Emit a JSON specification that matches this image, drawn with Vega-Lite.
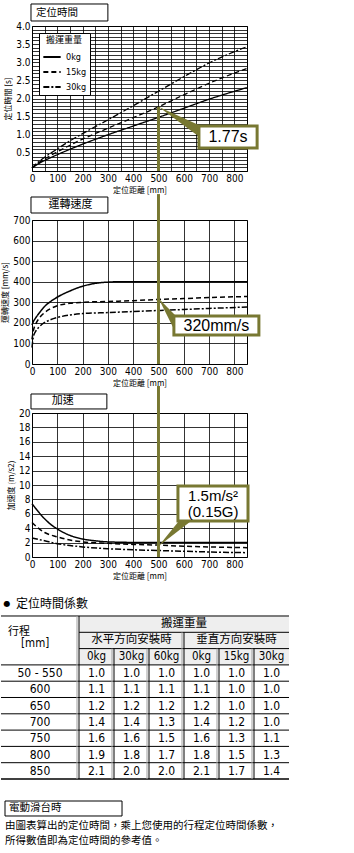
{
 "$schema": "https://vega.github.io/schema/vega-lite/v6.json",
 "background": "white",
 "padding": {"left": 0, "top": 2, "right": 4, "bottom": 4},
 "bounds": "flush",
 "spacing": 49,
 "config": {
  "view": {"stroke": "black", "strokeWidth": 1},
  "axis": {"domain": false, "grid": true, "gridColor": "black", "gridOpacity": 1, "gridWidth": 0.8, "ticks": false,
   "labelFont": "Liberation Sans Narrow, Arial Narrow, DejaVu Sans Condensed, sans-serif", "labelFontSize": 10, "labelColor": "black", "labelPadding": 2,
   "titleFont": "Noto Sans CJK TC", "titleFontSize": 8, "titleFontWeight": "normal", "titleColor": "black", "titlePadding": 3,
   "labelOverlap": false, "labelBound": false, "labelFlush": false},
  "legend": {"orient": "none", "fillColor": "white", "strokeColor": "black", "padding": 3, "titleFont": "Noto Sans CJK TC", "titleFontSize": 9, "titleFontWeight": "normal", "titleColor": "black", "titleAnchor": "middle", "titlePadding": 2,
   "labelFont": "Liberation Sans Narrow, Arial Narrow, DejaVu Sans Condensed, sans-serif", "labelFontSize": 9, "labelColor": "black", "symbolType": "stroke", "symbolSize": 300, "symbolStrokeWidth": 1.8, "symbolStrokeColor": "black", "rowPadding": 0, "labelOffset": 4},
  "text": {"color": "black"}
 },
 "datasets": {
  "time": [
   {"w":"0kg","d":0,"t":0.08},{"w":"0kg","d":25,"t":0.2},{"w":"0kg","d":50,"t":0.29},{"w":"0kg","d":100,"t":0.45},{"w":"0kg","d":150,"t":0.6},{"w":"0kg","d":200,"t":0.74},{"w":"0kg","d":300,"t":1.0},{"w":"0kg","d":400,"t":1.24},{"w":"0kg","d":500,"t":1.48},{"w":"0kg","d":600,"t":1.73},{"w":"0kg","d":700,"t":1.98},{"w":"0kg","d":850,"t":2.3},
   {"w":"15kg","d":0,"t":0.08},{"w":"15kg","d":25,"t":0.22},{"w":"15kg","d":50,"t":0.33},{"w":"15kg","d":100,"t":0.53},{"w":"15kg","d":150,"t":0.71},{"w":"15kg","d":200,"t":0.88},{"w":"15kg","d":300,"t":1.18},{"w":"15kg","d":400,"t":1.47},{"w":"15kg","d":500,"t":1.77},{"w":"15kg","d":600,"t":2.1},{"w":"15kg","d":700,"t":2.42},{"w":"15kg","d":850,"t":2.83},
   {"w":"30kg","d":0,"t":0.08},{"w":"30kg","d":25,"t":0.25},{"w":"30kg","d":50,"t":0.38},{"w":"30kg","d":100,"t":0.61},{"w":"30kg","d":150,"t":0.83},{"w":"30kg","d":200,"t":1.03},{"w":"30kg","d":300,"t":1.41},{"w":"30kg","d":400,"t":1.8},{"w":"30kg","d":500,"t":2.2},{"w":"30kg","d":600,"t":2.6},{"w":"30kg","d":700,"t":2.98},{"w":"30kg","d":850,"t":3.43}
  ],
  "speed": [
   {"w":"0kg","d":0,"s":190},{"w":"0kg","d":5,"s":205},{"w":"0kg","d":15,"s":225},{"w":"0kg","d":30,"s":250},{"w":"0kg","d":50,"s":280},{"w":"0kg","d":75,"s":305},{"w":"0kg","d":100,"s":325},{"w":"0kg","d":150,"s":355},{"w":"0kg","d":200,"s":378},{"w":"0kg","d":250,"s":392},{"w":"0kg","d":300,"s":398},{"w":"0kg","d":350,"s":400},{"w":"0kg","d":850,"s":400},
   {"w":"15kg","d":0,"s":120},{"w":"15kg","d":5,"s":160},{"w":"15kg","d":15,"s":195},{"w":"15kg","d":30,"s":225},{"w":"15kg","d":50,"s":250},{"w":"15kg","d":75,"s":270},{"w":"15kg","d":100,"s":283},{"w":"15kg","d":150,"s":295},{"w":"15kg","d":200,"s":300},{"w":"15kg","d":300,"s":304},{"w":"15kg","d":400,"s":308},{"w":"15kg","d":500,"s":314},{"w":"15kg","d":600,"s":318},{"w":"15kg","d":700,"s":323},{"w":"15kg","d":850,"s":328},
   {"w":"30kg","d":0,"s":80},{"w":"30kg","d":5,"s":130},{"w":"30kg","d":15,"s":160},{"w":"30kg","d":30,"s":182},{"w":"30kg","d":50,"s":202},{"w":"30kg","d":75,"s":216},{"w":"30kg","d":100,"s":226},{"w":"30kg","d":150,"s":238},{"w":"30kg","d":200,"s":245},{"w":"30kg","d":300,"s":250},{"w":"30kg","d":400,"s":255},{"w":"30kg","d":500,"s":260},{"w":"30kg","d":600,"s":265},{"w":"30kg","d":700,"s":270},{"w":"30kg","d":850,"s":277}
  ],
  "acc": [
   {"w":"0kg","d":0,"a":7.4},{"w":"0kg","d":25,"a":6.3},{"w":"0kg","d":50,"a":5.3},{"w":"0kg","d":75,"a":4.5},{"w":"0kg","d":100,"a":3.9},{"w":"0kg","d":150,"a":3.0},{"w":"0kg","d":200,"a":2.5},{"w":"0kg","d":250,"a":2.25},{"w":"0kg","d":300,"a":2.1},{"w":"0kg","d":400,"a":2.02},{"w":"0kg","d":500,"a":2.0},{"w":"0kg","d":850,"a":2.0},
   {"w":"15kg","d":0,"a":4.8},{"w":"15kg","d":25,"a":4.0},{"w":"15kg","d":50,"a":3.4},{"w":"15kg","d":100,"a":2.8},{"w":"15kg","d":150,"a":2.35},{"w":"15kg","d":200,"a":2.1},{"w":"15kg","d":300,"a":1.9},{"w":"15kg","d":400,"a":1.75},{"w":"15kg","d":500,"a":1.65},{"w":"15kg","d":600,"a":1.5},{"w":"15kg","d":700,"a":1.4},{"w":"15kg","d":850,"a":1.3},
   {"w":"30kg","d":0,"a":2.65},{"w":"30kg","d":50,"a":2.25},{"w":"30kg","d":100,"a":1.85},{"w":"30kg","d":150,"a":1.6},{"w":"30kg","d":200,"a":1.4},{"w":"30kg","d":300,"a":1.15},{"w":"30kg","d":400,"a":1.0},{"w":"30kg","d":500,"a":0.9},{"w":"30kg","d":600,"a":0.8},{"w":"30kg","d":700,"a":0.7},{"w":"30kg","d":850,"a":0.6}
  ],
  "tbl": [
   {"r":1,"c":1,"v":1.0},{"r":1,"c":2,"v":1.0},{"r":1,"c":3,"v":1.0},{"r":1,"c":4,"v":1.0},{"r":1,"c":5,"v":1.0},{"r":1,"c":6,"v":1.0},
   {"r":2,"c":1,"v":1.1},{"r":2,"c":2,"v":1.1},{"r":2,"c":3,"v":1.1},{"r":2,"c":4,"v":1.1},{"r":2,"c":5,"v":1.0},{"r":2,"c":6,"v":1.0},
   {"r":3,"c":1,"v":1.2},{"r":3,"c":2,"v":1.2},{"r":3,"c":3,"v":1.2},{"r":3,"c":4,"v":1.2},{"r":3,"c":5,"v":1.0},{"r":3,"c":6,"v":1.0},
   {"r":4,"c":1,"v":1.4},{"r":4,"c":2,"v":1.4},{"r":4,"c":3,"v":1.3},{"r":4,"c":4,"v":1.4},{"r":4,"c":5,"v":1.2},{"r":4,"c":6,"v":1.0},
   {"r":5,"c":1,"v":1.6},{"r":5,"c":2,"v":1.6},{"r":5,"c":3,"v":1.5},{"r":5,"c":4,"v":1.6},{"r":5,"c":5,"v":1.3},{"r":5,"c":6,"v":1.1},
   {"r":6,"c":1,"v":1.9},{"r":6,"c":2,"v":1.8},{"r":6,"c":3,"v":1.7},{"r":6,"c":4,"v":1.8},{"r":6,"c":5,"v":1.5},{"r":6,"c":6,"v":1.3},
   {"r":7,"c":1,"v":2.1},{"r":7,"c":2,"v":2.0},{"r":7,"c":3,"v":2.0},{"r":7,"c":4,"v":2.1},{"r":7,"c":5,"v":1.7},{"r":7,"c":6,"v":1.4}
  ],
  "strokes": [
   {"r":1,"s":"50 - 550"},{"r":2,"s":"600"},{"r":3,"s":"650"},{"r":4,"s":"700"},{"r":5,"s":"750"},{"r":6,"s":"800"},{"r":7,"s":"850"}
  ],
  "kg": [
   {"c":1,"k":"0kg"},{"c":2,"k":"30kg"},{"c":3,"k":"60kg"},{"c":4,"k":"0kg"},{"c":5,"k":"15kg"},{"c":6,"k":"30kg"}
  ],
  "hdr": [
   {"c":3.5,"r":-2,"h":"搬運重量"},{"c":2,"r":-1,"h":"水平方向安裝時"},{"c":5,"r":-1,"h":"垂直方向安裝時"}
  ],
  "hl": [
   {"x":-1.729,"x2":6.5,"y":-2.5},{"x":0.5,"x2":6.5,"y":-1.5},{"x":0.5,"x2":6.5,"y":-0.5},{"x":-1.729,"x2":6.5,"y":0.5},
   {"x":-1.729,"x2":6.5,"y":1.5},{"x":-1.729,"x2":6.5,"y":2.5},{"x":-1.729,"x2":6.5,"y":3.5},{"x":-1.729,"x2":6.5,"y":4.5},
   {"x":-1.729,"x2":6.5,"y":5.5},{"x":-1.729,"x2":6.5,"y":6.5}
  ],
  "vl": [
   {"x":0.5,"y":-2.5,"y2":7.5},{"x":3.5,"y":-1.5,"y2":7.5},{"x":1.5,"y":-0.5,"y2":7.5},{"x":2.5,"y":-0.5,"y2":7.5},{"x":4.5,"y":-0.5,"y2":7.5},{"x":5.5,"y":-0.5,"y2":7.5}
  ],
  "w1": [{"d":500,"a":1.77,"b":1.77},{"d":668,"a":1.241,"b":0.91}],
  "w2": [{"d":500,"a":320,"b":320},{"d":569,"a":233,"b":151}],
  "w3": [{"y":1.5,"a":500,"b":500},{"y":5.0,"a":581,"b":629}]
 },
 "vconcat": [
  {
   "width": 215, "height": 145,
   "resolve": {"axis": {"x": "independent", "y": "independent"}},
   "layer": [
    {"data": {"name": "time"},
     "mark": {"type": "line", "color": "black", "strokeWidth": 1.3, "interpolate": "monotone"},
     "encoding": {
      "x": {"field": "d", "type": "quantitative", "scale": {"domain": [0, 850], "nice": false},
       "axis": {"title": "定位距離 [mm]", "orient": "bottom", "grid": true, "values": [0,50,100,150,200,250,300,350,400,450,500,550,600,650,700,750,800,850], "labelExpr": "datum.value % 100 == 0 && datum.value < 850 ? datum.label : ''"}},
      "y": {"field": "t", "type": "quantitative", "scale": {"domain": [0, 4], "nice": false},
       "axis": {"title": "定位時間 [s]", "orient": "left", "grid": true, "values": [0,0.1,0.2,0.3,0.4,0.5,0.6,0.7,0.8,0.9,1.0,1.1,1.2,1.3,1.4,1.5,1.6,1.7,1.8,1.9,2.0,2.1,2.2,2.3,2.4,2.5,2.6,2.7,2.8,2.9,3.0,3.1,3.2,3.3,3.4,3.5,3.6,3.7,3.8,3.9,4.0], "labelExpr": "datum.value > 0.01 && abs(datum.value*2 - round(datum.value*2)) < 0.01 ? format(datum.value, '.1f') : ''"}},
      "strokeDash": {"field": "w", "type": "nominal", "scale": {"domain": ["0kg","15kg","30kg"], "range": [[1,0],[5,3],[6,2,2,2]]},
       "legend": {"title": "搬運重量", "legendX": 7, "legendY": 7}}
     }},
    {"data": {"values": [{}]},
     "mark": {"type": "rule", "color": "#787832", "strokeWidth": 3},
     "encoding": {"x": {"datum": 500, "type": "quantitative", "axis": null}, "y": {"datum": 1.77, "type": "quantitative", "axis": null}, "y2": {"datum": 0}}},
    {"data": {"name": "w1"},
     "mark": {"type": "area", "color": "#787832", "opacity": 1},
     "encoding": {"x": {"field": "d", "type": "quantitative", "axis": null}, "y": {"field": "a", "type": "quantitative", "axis": null}, "y2": {"field": "b"}}},
    {"data": {"values": [{}]},
     "mark": {"type": "rect", "fill": "white", "stroke": "#787832", "strokeWidth": 3},
     "encoding": {"x": {"datum": 660, "type": "quantitative", "axis": null}, "x2": {"datum": 890}, "y": {"datum": 1.241, "type": "quantitative", "axis": null}, "y2": {"datum": 0.634}}},
    {"data": {"values": [{}]},
     "mark": {"type": "text", "text": "1.77s", "font": "Liberation Sans", "fontSize": 16, "align": "center", "baseline": "middle"},
     "encoding": {"x": {"datum": 775, "type": "quantitative", "axis": null}, "y": {"datum": 0.938, "type": "quantitative", "axis": null}}},
    {"data": {"values": [{}]},
     "mark": {"type": "rect", "fill": "white", "stroke": "black", "strokeWidth": 1},
     "encoding": {"x": {"datum": -4, "type": "quantitative", "axis": null}, "x2": {"datum": 300}, "y": {"datum": 4.607, "type": "quantitative", "axis": null}, "y2": {"datum": 4.138}}},
    {"data": {"values": [{}]},
     "mark": {"type": "text", "text": "定位時間", "font": "Noto Sans CJK TC", "fontSize": 10.5, "align": "left", "baseline": "middle"},
     "encoding": {"x": {"datum": 16, "type": "quantitative", "axis": null}, "y": {"datum": 4.37, "type": "quantitative", "axis": null}}}
   ]
  },
  {
   "width": 215, "height": 144,
   "resolve": {"axis": {"x": "independent", "y": "independent"}},
   "layer": [
    {"data": {"name": "speed"},
     "mark": {"type": "line", "color": "black", "strokeWidth": 1.5, "interpolate": "monotone"},
     "encoding": {
      "x": {"field": "d", "type": "quantitative", "scale": {"domain": [0, 850], "nice": false},
       "axis": {"title": "定位距離 [mm]", "orient": "bottom", "grid": true, "values": [0,100,200,300,400,500,600,700,800]}},
      "y": {"field": "s", "type": "quantitative", "scale": {"domain": [0, 700], "nice": false},
       "axis": {"title": "運轉速度 [mm/s]", "orient": "left", "grid": true, "values": [0,100,200,300,400,500,600,700]}},
      "strokeDash": {"field": "w", "type": "nominal", "scale": {"domain": ["0kg","15kg","30kg"], "range": [[1,0],[5,3],[6,2,2,2]]},
       "legend": {"title": "搬運重量", "legendX": 164, "legendY": 9}}
     }},
    {"data": {"values": [{}]},
     "mark": {"type": "rule", "color": "#787832", "strokeWidth": 3},
     "encoding": {"x": {"datum": 500, "type": "quantitative", "axis": null}, "y": {"datum": 826, "type": "quantitative", "axis": null}, "y2": {"datum": 0}}},
    {"data": {"name": "w2"},
     "mark": {"type": "area", "color": "#787832", "opacity": 1},
     "encoding": {"x": {"field": "d", "type": "quantitative", "axis": null}, "y": {"field": "a", "type": "quantitative", "axis": null}, "y2": {"field": "b"}}},
    {"data": {"values": [{}]},
     "mark": {"type": "rect", "fill": "white", "stroke": "#787832", "strokeWidth": 3},
     "encoding": {"x": {"datum": 561, "type": "quantitative", "axis": null}, "x2": {"datum": 897}, "y": {"datum": 233, "type": "quantitative", "axis": null}, "y2": {"datum": 141}}},
    {"data": {"values": [{}]},
     "mark": {"type": "text", "text": "320mm/s", "font": "Liberation Sans", "fontSize": 16, "align": "center", "baseline": "middle"},
     "encoding": {"x": {"datum": 729, "type": "quantitative", "axis": null}, "y": {"datum": 187, "type": "quantitative", "axis": null}}},
    {"data": {"values": [{}]},
     "mark": {"type": "rect", "fill": "white", "stroke": "black", "strokeWidth": 1},
     "encoding": {"x": {"datum": -4, "type": "quantitative", "axis": null}, "x2": {"datum": 300}, "y": {"datum": 811.8, "type": "quantitative", "axis": null}, "y2": {"datum": 734}}},
    {"data": {"values": [{}]},
     "mark": {"type": "text", "text": "運轉速度", "font": "Noto Sans CJK TC", "fontSize": 11, "align": "center", "baseline": "middle"},
     "encoding": {"x": {"datum": 152, "type": "quantitative", "axis": null}, "y": {"datum": 773, "type": "quantitative", "axis": null}}}
   ]
  },
  {
   "width": 215, "height": 144,
   "resolve": {"axis": {"x": "independent", "y": "independent"}},
   "layer": [
    {"data": {"name": "acc"},
     "mark": {"type": "line", "color": "black", "strokeWidth": 1.5, "interpolate": "monotone"},
     "encoding": {
      "x": {"field": "d", "type": "quantitative", "scale": {"domain": [0, 850], "nice": false},
       "axis": {"title": "定位距離 [mm]", "orient": "bottom", "grid": true, "values": [0,100,200,300,400,500,600,700,800]}},
      "y": {"field": "a", "type": "quantitative", "scale": {"domain": [0, 20], "nice": false},
       "axis": {"title": "加速度 (m/s2)", "orient": "left", "grid": true, "values": [0,2,4,6,8,10,12,14,16,18,20]}},
      "strokeDash": {"field": "w", "type": "nominal", "scale": {"domain": ["0kg","15kg","30kg"], "range": [[1,0],[5,3],[6,2,2,2]]},
       "legend": {"title": "搬運重量", "legendX": 161, "legendY": 8}}
     }},
    {"data": {"values": [{}]},
     "mark": {"type": "rule", "color": "#787832", "strokeWidth": 3},
     "encoding": {"x": {"datum": 500, "type": "quantitative", "axis": null}, "y": {"datum": 23.75, "type": "quantitative", "axis": null}, "y2": {"datum": 0}}},
    {"data": {"name": "w3"},
     "mark": {"type": "area", "color": "#787832", "opacity": 1, "orient": "horizontal"},
     "encoding": {"y": {"field": "y", "type": "quantitative", "axis": null}, "x": {"field": "a", "type": "quantitative", "axis": null}, "x2": {"field": "b"}}},
    {"data": {"values": [{}]},
     "mark": {"type": "rect", "fill": "white", "stroke": "#787832", "strokeWidth": 3},
     "encoding": {"x": {"datum": 577, "type": "quantitative", "axis": null}, "x2": {"datum": 854}, "y": {"datum": 9.86, "type": "quantitative", "axis": null}, "y2": {"datum": 5.0}}},
    {"data": {"values": [{}]},
     "mark": {"type": "text", "text": "1.5m/s²", "font": "Liberation Sans", "fontSize": 15, "align": "center", "baseline": "middle"},
     "encoding": {"x": {"datum": 716, "type": "quantitative", "axis": null}, "y": {"datum": 8.5, "type": "quantitative", "axis": null}}},
    {"data": {"values": [{}]},
     "mark": {"type": "text", "text": "(0.15G)", "font": "Liberation Sans", "fontSize": 15, "align": "center", "baseline": "middle"},
     "encoding": {"x": {"datum": 716, "type": "quantitative", "axis": null}, "y": {"datum": 6.25, "type": "quantitative", "axis": null}}},
    {"data": {"values": [{}]},
     "mark": {"type": "rect", "fill": "white", "stroke": "black", "strokeWidth": 1},
     "encoding": {"x": {"datum": -4, "type": "quantitative", "axis": null}, "x2": {"datum": 296}, "y": {"datum": 22.64, "type": "quantitative", "axis": null}, "y2": {"datum": 20.56}}},
    {"data": {"values": [{}]},
     "mark": {"type": "text", "text": "加速", "font": "Noto Sans CJK TC", "fontSize": 11, "align": "center", "baseline": "middle"},
     "encoding": {"x": {"datum": 122, "type": "quantitative", "axis": null}, "y": {"datum": 21.6, "type": "quantitative", "axis": null}}}
   ]
  },
  {
   "width": 257, "height": 235,
   "view": {"stroke": null},
   "layer": [
    {"data": {"values": [{}]},
     "mark": {"type": "rect", "fill": "#eeeeee"},
     "encoding": {"x": {"datum": 0.5, "type": "quantitative", "scale": {"domain": [-0.843, 6.5], "nice": false, "zero": false}, "axis": null}, "x2": {"datum": 6.5},
      "y": {"datum": -2.5, "type": "quantitative", "scale": {"domain": [-3.1135, 11.304], "nice": false, "zero": false, "reverse": true}, "axis": null}, "y2": {"datum": 0.5}}},
    {"data": {"name": "hl"},
     "mark": {"type": "rule", "color": "black", "strokeWidth": 1},
     "encoding": {"x": {"field": "x", "type": "quantitative", "scale": {"domain": [-0.843, 6.5], "nice": false, "zero": false}, "axis": null}, "x2": {"field": "x2"},
      "y": {"field": "y", "type": "quantitative", "scale": {"domain": [-3.1135, 11.304], "nice": false, "zero": false, "reverse": true}, "axis": null}}},
    {"data": {"values": [{}]},
     "mark": {"type": "rule", "color": "black", "strokeWidth": 1.6},
     "encoding": {"x": {"datum": -1.729, "type": "quantitative", "scale": {"domain": [-0.843, 6.5], "nice": false, "zero": false}, "axis": null}, "x2": {"datum": 6.5},
      "y": {"datum": 7.5, "type": "quantitative", "scale": {"domain": [-3.1135, 11.304], "nice": false, "zero": false, "reverse": true}, "axis": null}}},
    {"data": {"name": "vl"},
     "mark": {"type": "rule", "color": "#a0a0a0", "strokeWidth": 1, "xOffset": -2},
     "encoding": {"x": {"field": "x", "type": "quantitative", "scale": {"domain": [-0.843, 6.5], "nice": false, "zero": false}, "axis": null},
      "y": {"field": "y", "type": "quantitative", "scale": {"domain": [-3.1135, 11.304], "nice": false, "zero": false, "reverse": true}, "axis": null}, "y2": {"field": "y2"}}},
    {"data": {"name": "vl"},
     "mark": {"type": "rule", "color": "black", "strokeWidth": 1},
     "encoding": {"x": {"field": "x", "type": "quantitative", "scale": {"domain": [-0.843, 6.5], "nice": false, "zero": false}, "axis": null},
      "y": {"field": "y", "type": "quantitative", "scale": {"domain": [-3.1135, 11.304], "nice": false, "zero": false, "reverse": true}, "axis": null}, "y2": {"field": "y2"}}},
    {"data": {"name": "hdr"},
     "mark": {"type": "text", "font": "Noto Sans CJK TC", "fontSize": 11.5, "align": "center", "baseline": "middle"},
     "encoding": {"x": {"field": "c", "type": "quantitative", "scale": {"domain": [-0.843, 6.5], "nice": false, "zero": false}, "axis": null},
      "y": {"field": "r", "type": "quantitative", "scale": {"domain": [-3.1135, 11.304], "nice": false, "zero": false, "reverse": true}, "axis": null},
      "text": {"field": "h"}}},
    {"data": {"name": "kg"},
     "mark": {"type": "text", "font": "Liberation Sans Narrow, Arial Narrow, DejaVu Sans Condensed, sans-serif", "fontSize": 11.5, "align": "center", "baseline": "middle"},
     "encoding": {"x": {"field": "c", "type": "quantitative", "scale": {"domain": [-0.843, 6.5], "nice": false, "zero": false}, "axis": null},
      "y": {"datum": 0, "type": "quantitative", "scale": {"domain": [-3.1135, 11.304], "nice": false, "zero": false, "reverse": true}, "axis": null},
      "text": {"field": "k"}}},
    {"data": {"name": "tbl"},
     "mark": {"type": "text", "font": "Liberation Sans Narrow, Arial Narrow, DejaVu Sans Condensed, sans-serif", "fontSize": 12, "align": "center", "baseline": "middle"},
     "encoding": {"x": {"field": "c", "type": "quantitative", "scale": {"domain": [-0.843, 6.5], "nice": false, "zero": false}, "axis": null},
      "y": {"field": "r", "type": "quantitative", "scale": {"domain": [-3.1135, 11.304], "nice": false, "zero": false, "reverse": true}, "axis": null},
      "text": {"field": "v", "type": "quantitative", "format": ".1f"}}},
    {"data": {"name": "strokes"},
     "mark": {"type": "text", "font": "Liberation Sans Narrow, Arial Narrow, DejaVu Sans Condensed, sans-serif", "fontSize": 12, "align": "center", "baseline": "middle"},
     "encoding": {"x": {"datum": -0.614, "type": "quantitative", "scale": {"domain": [-0.843, 6.5], "nice": false, "zero": false}, "axis": null},
      "y": {"field": "r", "type": "quantitative", "scale": {"domain": [-3.1135, 11.304], "nice": false, "zero": false, "reverse": true}, "axis": null},
      "text": {"field": "s"}}},
    {"data": {"values": [{}]},
     "mark": {"type": "text", "text": "行程", "font": "Noto Sans CJK TC", "fontSize": 11, "align": "left", "baseline": "middle"},
     "encoding": {"x": {"datum": -1.529, "type": "quantitative", "scale": {"domain": [-0.843, 6.5], "nice": false, "zero": false}, "axis": null},
      "y": {"datum": -1.52, "type": "quantitative", "scale": {"domain": [-3.1135, 11.304], "nice": false, "zero": false, "reverse": true}, "axis": null}}},
    {"data": {"values": [{}]},
     "mark": {"type": "text", "text": "[mm]", "font": "Liberation Sans Narrow, Arial Narrow, DejaVu Sans Condensed, sans-serif", "fontSize": 11.5, "align": "left", "baseline": "middle"},
     "encoding": {"x": {"datum": -1.157, "type": "quantitative", "scale": {"domain": [-0.843, 6.5], "nice": false, "zero": false}, "axis": null},
      "y": {"datum": -0.78, "type": "quantitative", "scale": {"domain": [-3.1135, 11.304], "nice": false, "zero": false, "reverse": true}, "axis": null}}},
    {"data": {"values": [{}]},
     "mark": {"type": "text", "text": "●", "font": "DejaVu Sans", "fontSize": 8, "align": "center", "baseline": "middle"},
     "encoding": {"x": {"datum": -1.557, "type": "quantitative", "scale": {"domain": [-0.843, 6.5], "nice": false, "zero": false}, "axis": null},
      "y": {"datum": -3.236, "type": "quantitative", "scale": {"domain": [-3.1135, 11.304], "nice": false, "zero": false, "reverse": true}, "axis": null}}},
    {"data": {"values": [{}]},
     "mark": {"type": "text", "text": "定位時間係數", "font": "Noto Sans CJK TC", "fontSize": 12, "align": "left", "baseline": "middle"},
     "encoding": {"x": {"datum": -1.3, "type": "quantitative", "scale": {"domain": [-0.843, 6.5], "nice": false, "zero": false}, "axis": null},
      "y": {"datum": -3.236, "type": "quantitative", "scale": {"domain": [-3.1135, 11.304], "nice": false, "zero": false, "reverse": true}, "axis": null}}},
    {"data": {"values": [{}]},
     "mark": {"type": "rect", "fill": "white", "stroke": "black", "strokeWidth": 1},
     "encoding": {"x": {"datum": -1.614, "type": "quantitative", "scale": {"domain": [-0.843, 6.5], "nice": false, "zero": false}, "axis": null}, "x2": {"datum": 1.729},
      "y": {"datum": 8.85, "type": "quantitative", "scale": {"domain": [-3.1135, 11.304], "nice": false, "zero": false, "reverse": true}, "axis": null}, "y2": {"datum": 9.77}}},
    {"data": {"values": [{}]},
     "mark": {"type": "text", "text": "電動滑台時", "font": "Noto Sans CJK TC", "fontSize": 10.5, "align": "left", "baseline": "middle"},
     "encoding": {"x": {"datum": -1.5, "type": "quantitative", "scale": {"domain": [-0.843, 6.5], "nice": false, "zero": false}, "axis": null},
      "y": {"datum": 9.31, "type": "quantitative", "scale": {"domain": [-3.1135, 11.304], "nice": false, "zero": false, "reverse": true}, "axis": null}}},
    {"data": {"values": [{}]},
     "mark": {"type": "text", "text": "由圖表算出的定位時間，乘上您使用的行程定位時間係數，", "font": "Noto Sans CJK TC", "fontSize": 10.5, "align": "left", "baseline": "middle"},
     "encoding": {"x": {"datum": -1.614, "type": "quantitative", "scale": {"domain": [-0.843, 6.5], "nice": false, "zero": false}, "axis": null},
      "y": {"datum": 10.36, "type": "quantitative", "scale": {"domain": [-3.1135, 11.304], "nice": false, "zero": false, "reverse": true}, "axis": null}}},
    {"data": {"values": [{}]},
     "mark": {"type": "text", "text": "所得數值即為定位時間的參考值。", "font": "Noto Sans CJK TC", "fontSize": 10.5, "align": "left", "baseline": "middle"},
     "encoding": {"x": {"datum": -1.614, "type": "quantitative", "scale": {"domain": [-0.843, 6.5], "nice": false, "zero": false}, "axis": null},
      "y": {"datum": 11.3, "type": "quantitative", "scale": {"domain": [-3.1135, 11.304], "nice": false, "zero": false, "reverse": true}, "axis": null}}}
   ]
  }
 ]
}
